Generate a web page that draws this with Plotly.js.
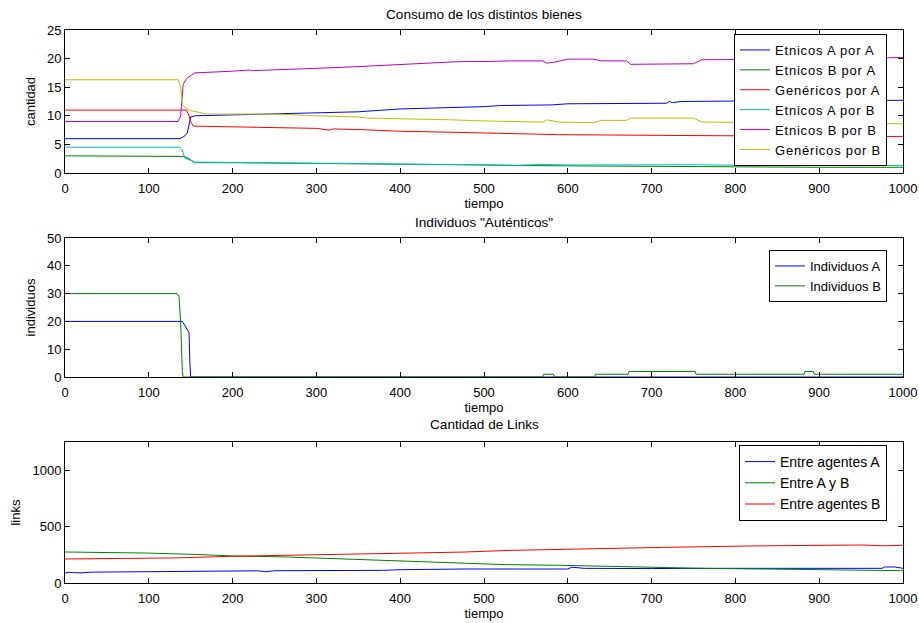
<!DOCTYPE html>
<html>
<head>
<meta charset="utf-8">
<script src="https://cdn.plot.ly/plotly-3.0.1.min.js"></script>
<style>
html,body{margin:0;padding:0;background:#fff;}
#chart{width:919px;height:623px;}
text.legendtext{letter-spacing:0.8px;}
</style>
</head>
<body>
<div id="chart"></div>
<script>
// ---- Panel 1: Consumo de los distintos bienes ----
const tEAA = [0,136,140,143,146,148,150,155,180,200,250,300,320,350,400,450,480,500,520,580,600,670,718,721,725,735,800,900,1000];
const EtnicosAporA = [6,6,6.2,6.5,7,8.5,9.8,10,10.1,10.2,10.4,10.5,10.7,10.7,11.2,11.4,11.5,11.6,11.8,11.9,12.1,12.2,12.2,12.5,12.3,12.5,12.6,12.7,12.7];
const tEBA = [0,138,142,148,155,200,250,300,350,400,450,500,540,600,700,750,800,900,1000];
const EtnicosBporA = [3,3,2.9,2.5,1.8,1.8,1.75,1.6,1.6,1.5,1.45,1.4,1.3,1.25,1.2,1.05,1.0,1.0,1.0];
const tGA = [0,145,148,150,153,200,250,270,300,315,320,350,400,470,520,590,690,700,800,950,1000];
const GenericosPorA = [11,11,10,9,8.2,8.1,8.0,7.9,7.8,7.5,7.7,7.6,7.3,7.1,6.9,6.7,6.6,6.6,6.5,6.35,6.4];
const tEAB = [0,137,140,143,150,155,200,250,350,450,540,570,600,700,750,800,900,1000];
const EtnicosAporB = [4.5,4.5,4,2.6,2.2,1.9,1.85,1.8,1.65,1.5,1.35,1.5,1.4,1.45,1.45,1.35,1.3,1.3];
const tEBB = [0,135,138,141,145,150,155,200,220,225,250,300,350,400,460,480,500,505,530,570,575,585,600,630,640,670,675,750,760,900,1000];
const EtnicosBporB = [9,9,10,15.5,16.5,17,17.5,17.8,18,17.9,18,18.3,18.6,19,19.4,19.5,19.4,19.5,19.6,19.6,19.2,19.4,19.9,19.9,19.6,19.6,19.0,19.1,19.8,19.9,20.2];
const tGB = [0,135,138,140,145,150,160,170,200,250,300,350,360,400,460,500,570,575,590,630,640,670,675,750,760,900,1000];
const GenericosPorB = [16.3,16.3,15,12,11.2,10.9,10.6,10.3,10.3,10.3,10.0,9.8,9.6,9.5,9.3,9.1,8.9,9.3,8.9,8.8,9.2,9.2,9.6,9.6,8.9,8.8,8.6];

// ---- Panel 2: Individuos "Auténticos" ----
const tIA = [0,140,142,144,146,148,149,150,1000];
const IndividuosA = [20,20,19,18,17,16,5,0,0];
const tIB = [0,134,136,138,140,141,570,571,583,584,632,633,672,673,752,753,882,883,893,894,1000];
const IndividuosB = [30,30,29,20,2,0,0,1,1,0,0,1,1,2,2,1,1,2,2,1,1];

// ---- Panel 3: Cantidad de Links ----
const tLA = [0,5,10,20,30,100,200,230,240,250,380,400,475,600,605,620,700,760,975,978,990,1000];
const LinksA = [89,95,92,90,96,98,102,108,100,109,112,118,124,124,140,130,128,130,130,142,142,130];
const tLAB = [0,100,160,200,260,300,340,380,420,440,475,525,590,650,700,760,870,960,1000];
const LinksAB = [275,265,252,240,232,222,213,204,195,186,176,163,157,148,138,130,121,109,109];
const tLB = [0,130,200,260,300,360,440,475,530,645,700,715,825,950,975,990,1000];
const LinksB = [213,222,237,245,250,259,264,274,289,302,308,316,329,337,330,334,334];

const xTicks = [0,100,200,300,400,500,600,700,800,900,1000];

const C = {b:'rgb(0,0,255)', g:'rgb(0,128,0)', r:'rgb(255,0,0)', c:'rgb(0,191,191)', m:'rgb(191,0,191)', y:'rgb(191,191,0)'};
const FONT = 'Liberation Sans, Arial, Helvetica, sans-serif';
const W = 919, H = 623;

function tr(x, y, name, color, xa, ya, leg) {
  return {x: x, y: y, name: name, type: 'scatter', mode: 'lines',
          line: {color: color, width: 1}, xaxis: xa, yaxis: ya, legend: leg, hoverinfo: 'skip'};
}

const data = [
  tr(tEAA, EtnicosAporA, 'Etnicos A por A', C.b, 'x', 'y', 'legend'),
  tr(tEBA, EtnicosBporA, 'Etnicos B por A', C.g, 'x', 'y', 'legend'),
  tr(tGA, GenericosPorA, 'Genéricos por A', C.r, 'x', 'y', 'legend'),
  tr(tEAB, EtnicosAporB, 'Etnicos A por B', C.c, 'x', 'y', 'legend'),
  tr(tEBB, EtnicosBporB, 'Etnicos B por B', C.m, 'x', 'y', 'legend'),
  tr(tGB, GenericosPorB, 'Genéricos por B', C.y, 'x', 'y', 'legend'),
  tr(tIA, IndividuosA, 'Individuos A', C.b, 'x2', 'y2', 'legend2'),
  tr(tIB, IndividuosB, 'Individuos B', C.g, 'x2', 'y2', 'legend2'),
  tr(tLA, LinksA, 'Entre agentes A', C.b, 'x3', 'y3', 'legend3'),
  tr(tLAB, LinksAB, 'Entre A y B', C.g, 'x3', 'y3', 'legend3'),
  tr(tLB, LinksB, 'Entre agentes B', C.r, 'x3', 'y3', 'legend3')
];

const xd = [65/W, 903/W];
function yd(top, bottom) { return [1 - bottom/H, 1 - top/H]; }

function xaxis(anchor) {
  return {domain: xd, anchor: anchor, range: [0, 1000], tickvals: xTicks,
          ticks: 'inside', ticklen: 5, tickcolor: '#000', mirror: 'ticks', ticklabelstandoff: 3,
          showline: true, linecolor: '#000', linewidth: 1, showgrid: false, zeroline: false,
          tickfont: {family: FONT, size: 13, color: '#000'},
          title: {text: 'tiempo', font: {family: FONT, size: 13, color: '#000'}, standoff: 4}};
}
function yaxis(anchor, dom, range, vals, title) {
  return {domain: dom, anchor: anchor, range: range, tickvals: vals,
          ticks: 'inside', ticklen: 5, tickcolor: '#000', mirror: 'ticks',
          showline: true, linecolor: '#000', linewidth: 1, showgrid: false, zeroline: false,
          tickfont: {family: FONT, size: 13, color: '#000'},
          title: {text: title, font: {family: FONT, size: 13, color: '#000'}, standoff: 8}};
}
function legend(xr, ytop, size) {
  return {x: xr/W, y: 1 - ytop/H, xanchor: 'right', yanchor: 'top', bgcolor: '#fff',
          bordercolor: '#000', borderwidth: 1, font: {family: FONT, size: size, color: '#000'},
          tracegroupgap: 0};
}
function ttl(text, y) {
  return {text: text, x: 484/W, y: 1 - y/H, xref: 'paper', yref: 'paper', showarrow: false,
          xanchor: 'center', yanchor: 'middle', font: {family: FONT, size: 13.6, color: '#000'}};
}

const layout = {
  width: W, height: H, margin: {l: 0, r: 0, t: 0, b: 0},
  paper_bgcolor: '#fff', plot_bgcolor: '#fff', showlegend: true,
  xaxis: xaxis('y'), yaxis: yaxis('x', yd(30, 173), [0, 25], [0,5,10,15,20,25], 'cantidad'),
  xaxis2: xaxis('y2'), yaxis2: yaxis('x2', yd(238, 377), [0, 50], [0,10,20,30,40,50], 'individuos'),
  xaxis3: xaxis('y3'), yaxis3: yaxis('x3', yd(442, 583), [0, 1250], [0,500,1000], 'links'),
  legend: legend(887, 34, 13),
  legend2: legend(887, 250, 13),
  legend3: legend(887, 445, 14),
  annotations: [
    ttl('Consumo de los distintos bienes', 14),
    ttl('Individuos "Auténticos"', 222),
    ttl('Cantidad de Links', 424)
  ]
};

Plotly.newPlot('chart', data, layout, {staticPlot: true, displayModeBar: false});
</script>
</body>
</html>
